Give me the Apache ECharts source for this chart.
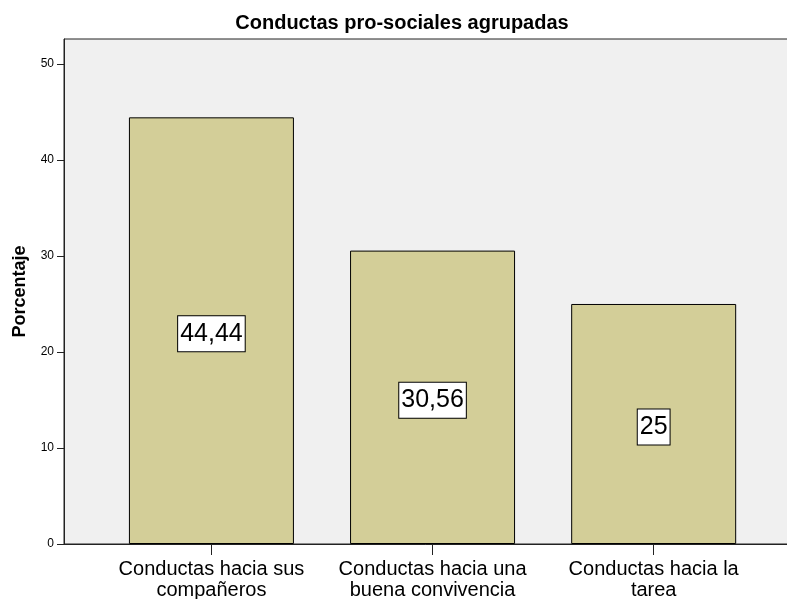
<!DOCTYPE html>
<html><head><meta charset="utf-8">
<script src="https://cdn.jsdelivr.net/npm/echarts@6/dist/echarts.min.js"></script>
<style>html,body{margin:0;padding:0;background:#fff}#c{width:787px;height:599px}</style>
</head><body><div id="c"></div>
<script>
const categories = ["Conductas hacia sus\ncompañeros", "Conductas hacia una\nbuena convivencia", "Conductas hacia la\ntarea"];
const values = [44.44, 30.56, 25];
const yTicks = [0, 10, 20, 30, 40, 50];

const chart = echarts.init(document.getElementById('c'));
chart.setOption({
  animation: false,
  title: {
    text: 'Conductas pro-sociales agrupadas',
    left: 397, top: 8, textAlign: 'center',
    textStyle: {fontFamily: 'Liberation Sans', fontSize: 20, fontWeight: 'bold', color: '#000'}
  },
  grid: {left: 64, right: -2, top: 39, bottom: 55, outerBoundsMode: 'none', containLabel: false,
    show: true, backgroundColor: '#f0f0f0', borderColor: '#222', borderWidth: 1},
  xAxis: {
    type: 'value', min: -0.6667, max: 2.612,
    splitLine: {show: false},
    axisLine: {show: true, onZero: false, lineStyle: {color: '#222', width: 1}},
    axisTick: {show: true, customValues: [0, 1, 2], length: 11, lineStyle: {color: '#222'}},
    axisLabel: {
      customValues: [0, 1, 2],
      formatter: v => categories[Math.round(v)],
      fontFamily: 'Liberation Sans', fontSize: 20, color: '#000', lineHeight: 21, margin: 15
    }
  },
  yAxis: {
    type: 'value', min: 0, max: 52.6,
    name: 'Porcentaje', nameLocation: 'middle', nameGap: 35, nameRotate: 90,
    nameTextStyle: {fontFamily: 'Liberation Sans', fontSize: 18, fontWeight: 'bold', color: '#000'},
    splitLine: {show: false},
    axisLine: {show: true, onZero: false, lineStyle: {color: '#222'}},
    axisTick: {show: true, customValues: yTicks, length: 7, lineStyle: {color: '#222'}},
    axisLabel: {customValues: yTicks, fontFamily: 'Liberation Sans', fontSize: 12, color: '#000', margin: 10}
  },
  series: [{
    type: 'bar',
    data: values.map((v, i) => [i, v]),
    barWidth: 165,
    itemStyle: {color: '#d3ce98', borderColor: '#000', borderWidth: 1},
    label: {
      show: true, position: 'inside', offset: [0, 3],
      formatter: p => String(p.value[1]).replace('.', ','),
      fontFamily: 'Liberation Sans', fontSize: 25, color: '#000',
      backgroundColor: '#fff', borderColor: '#000', borderWidth: 1,
      padding: [7, 2, 3, 2]
    }
  }]
});
</script></body></html>
